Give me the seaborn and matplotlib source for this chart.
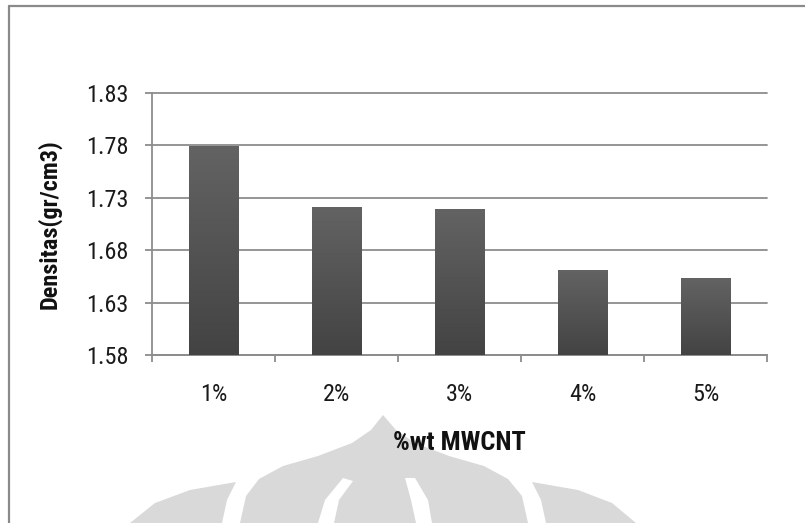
import numpy as np
import pandas as pd
import matplotlib
matplotlib.use("Agg")
import matplotlib.pyplot as plt
from matplotlib import font_manager as fm
from matplotlib.patches import Polygon
from matplotlib.lines import Line2D
import seaborn as sns

categories = ["1%", "2%", "3%", "4%", "5%"]
density = [1.779, 1.721, 1.719, 1.661, 1.653]
y_ticks = [1.58, 1.63, 1.68, 1.73, 1.78, 1.83]
x_title = "%wt MWCNT"
y_title = "Densitas(gr/cm3)"

sns.set_theme(style="white")
installed = {f.name for f in fm.fontManager.ttflist}
narrow = [n for n in ["Liberation Sans Narrow", "Arial Narrow", "Roboto Condensed",
                      "Open Sans Condensed"] if n in installed]
base_font = narrow[0] if narrow else "Liberation Sans"
plt.rcParams["font.family"] = [base_font, "DejaVu Sans"]

W, H = 805, 523
fig = plt.figure(figsize=(W / 100, H / 100), dpi=100)
fig.patch.set_facecolor("white")


def px(x, y):
    return (x / W, 1 - y / H)


# faded emblem in the lower part of the page
wm = "#d9d9d9"
dome = [(383, 415), (371, 430), (352, 443), (318, 456), (283, 466), (259, 479),
        (246, 496), (240, 523), (528, 523), (522, 496), (508, 479), (484, 466),
        (449, 456), (415, 443), (396, 430)]
left_lobe = [(130, 523), (155, 503), (190, 490), (236, 482), (227, 500), (222, 523)]
right_lobe = [(636, 523), (612, 503), (578, 490), (532, 482), (541, 500), (546, 523)]
gap_l = [(343, 478), (353, 481), (339, 500), (334, 523), (318, 523), (325, 500)]
gap_r = [(405, 478), (415, 478), (428, 500), (432, 523), (416, 523), (411, 500)]
for pts, col in [(dome, wm), (left_lobe, wm), (right_lobe, wm),
                 (gap_l, "white"), (gap_r, "white")]:
    fig.patches.append(Polygon([px(*p) for p in pts], closed=True, facecolor=col,
                               edgecolor="none", transform=fig.transFigure, zorder=0))

# page frame (left and top edges)
frame_c = "#8a8a8a"
fig.add_artist(Line2D([9 / W, 9 / W], [0, 1 - 6 / H], color=frame_c, lw=1.6,
                      transform=fig.transFigure))
fig.add_artist(Line2D([9 / W, 1], [1 - 6 / H, 1 - 6 / H], color=frame_c, lw=1.6,
                      transform=fig.transFigure))

ax = fig.add_axes([152 / W, 1 - 355 / H, (767 - 152) / W, (355 - 92.7) / H])
ax.set_facecolor("none")
ax.set_zorder(2)

df = pd.DataFrame({"kadar": categories, "densitas": density})
sns.barplot(data=df, x="kadar", y="densitas", color="#555555", width=0.4,
            saturation=1, ax=ax, zorder=3)

y_lo, y_hi = 1.58, 1.83

# vertical shading on each bar, limited to the visible value range
grad = np.linspace(0, 1, 256).reshape(-1, 1)
cmap = matplotlib.colors.LinearSegmentedColormap.from_list("barshade", ["#434343", "#636363"])
for patch in ax.patches:
    x0, w = patch.get_x(), patch.get_width()
    top = patch.get_y() + patch.get_height()
    ax.imshow(grad, extent=[x0, x0 + w, y_lo, top], origin="lower",
              aspect="auto", cmap=cmap, zorder=4)
    patch.set_edgecolor("#a0a0a0")
    patch.set_linewidth(0.6)
ax.set_ylim(y_lo, y_hi)
ax.set_xlim(-0.5, len(categories) - 0.5)

grid_c = "#8c8c8c"
ax.set_yticks(y_ticks)
ax.set_yticklabels([f"{v:.2f}" for v in y_ticks])
ax.yaxis.grid(True, color=grid_c, lw=1.3, zorder=1)
for gl in ax.get_ygridlines():
    gl.set_clip_on(False)
ax.xaxis.grid(False)

for side in ["top", "right"]:
    ax.spines[side].set_visible(False)
for side in ["left", "bottom"]:
    ax.spines[side].set_color(grid_c)
    ax.spines[side].set_linewidth(1.3)

ax.set_xticks(range(len(categories)))
ax.set_xticks(np.arange(-0.5, len(categories)), minor=True)
ax.tick_params(axis="x", which="major", length=0, pad=20, labelsize=17.5,
               labelcolor="#1a1a1a")
ax.tick_params(axis="x", which="minor", length=5, width=1.3, color=grid_c,
               direction="out", bottom=True)
ax.tick_params(axis="y", length=5, width=1.3, color=grid_c, direction="out",
               pad=12, labelsize=17.5, labelcolor="#1a1a1a", left=True)

ax.set_xlabel(x_title, fontsize=19, fontweight="bold", color="#111111")
ax.xaxis.set_label_coords(0.5, -0.335)
ax.xaxis.label.set_verticalalignment("center")
ax.set_ylabel(y_title, fontsize=17.5, fontweight="bold", color="#111111")
ax.yaxis.set_label_coords(-0.166, 0.5)
ax.yaxis.label.set_verticalalignment("center")

fig.savefig("out.png", dpi=100)
